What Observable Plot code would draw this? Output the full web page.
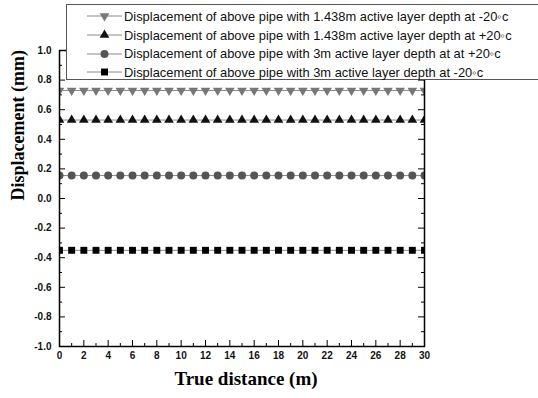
<!DOCTYPE html>
<html>
<head>
<meta charset="utf-8">
<script src="https://cdn.jsdelivr.net/npm/d3@7"></script>
<script src="https://cdn.jsdelivr.net/npm/@observablehq/plot@0.6"></script>
<style>
  html, body { margin: 0; padding: 0; background: #fff; }
  #wrap { position: relative; width: 538px; height: 398px; overflow: hidden; background: #fff; }
  #legend {
    position: absolute; left: 66px; top: 4px; width: 500px; height: 76px;
    border: 1px solid #555; background: #fff; box-sizing: border-box;
    padding-top: 2px; font-family: "Liberation Sans", Arial, sans-serif; font-size: 12.9px; color: #111;
  }
  .row { display: flex; align-items: center; height: 18.7px; white-space: nowrap; }
  .row svg { margin-left: 20px; margin-right: 2px; flex: none; }
</style>
</head>
<body>
<div id="wrap"><div id="legend"></div></div>
<script>
const distance = [0,1,2,3,4,5,6,7,8,9,10,11,12,13,14,15,16,17,18,19,20,21,22,23,24,25,26,27,28,29,30];
const depth1438Minus20 = [0.73,0.73,0.73,0.73,0.73,0.73,0.73,0.73,0.73,0.73,0.73,0.73,0.73,0.73,0.73,0.73,0.73,0.73,0.73,0.73,0.73,0.73,0.73,0.73,0.73,0.73,0.73,0.73,0.73,0.73,0.73];
const depth1438Plus20 = [0.53,0.53,0.53,0.53,0.53,0.53,0.53,0.53,0.53,0.53,0.53,0.53,0.53,0.53,0.53,0.53,0.53,0.53,0.53,0.53,0.53,0.53,0.53,0.53,0.53,0.53,0.53,0.53,0.53,0.53,0.53];
const depth3Plus20 = [0.155,0.155,0.155,0.155,0.155,0.155,0.155,0.155,0.155,0.155,0.155,0.155,0.155,0.155,0.155,0.155,0.155,0.155,0.155,0.155,0.155,0.155,0.155,0.155,0.155,0.155,0.155,0.155,0.155,0.155,0.155];
const depth3Minus20 = [-0.35,-0.35,-0.35,-0.35,-0.35,-0.35,-0.35,-0.35,-0.35,-0.35,-0.35,-0.35,-0.35,-0.35,-0.35,-0.35,-0.35,-0.35,-0.35,-0.35,-0.35,-0.35,-0.35,-0.35,-0.35,-0.35,-0.35,-0.35,-0.35,-0.35,-0.35];
const seriesNames = [
  "Displacement of above pipe with 1.438m active layer depth at -20◦c",
  "Displacement of above pipe with 1.438m active layer depth at +20◦c",
  "Displacement of above pipe with 3m active layer depth at at +20◦c",
  "Displacement of above pipe with 3m active layer depth at -20◦c"
];
const xMajorTicks = [0,2,4,6,8,10,12,14,16,18,20,22,24,26,28,30];
const xMinorTicks = [1,3,5,7,9,11,13,15,17,19,21,23,25,27,29];
const yMajorTicks = [-1.0,-0.8,-0.6,-0.4,-0.2,0.0,0.2,0.4,0.6,0.8,1.0];
const yMinorTicks = [-0.9,-0.7,-0.5,-0.3,-0.1,0.1,0.3,0.5,0.7,0.9];
const xTitle = "True distance (m)";
const yTitle = "Displacement (mm)";

const styles = [
  {symbol: "triangle", fill: "#777", r: 3.6, rotate: 180},
  {symbol: "triangle", fill: "#111", r: 3.6, rotate: 0},
  {symbol: "circle", fill: "#555", r: 4, rotate: 0},
  {symbol: "square", fill: "#000", r: 3.9, rotate: 0}
];
const valueSets = [depth1438Minus20, depth1438Plus20, depth3Plus20, depth3Minus20];
const table = [];
valueSets.forEach((vals, i) => vals.forEach((v, j) => table.push({series: seriesNames[i], distance: distance[j], value: v, k: i})));

const W = 538, H = 398, mL = 59, mR = 114, mT = 50, mB = 52;
const pw = W - mL - mR, ph = H - mT - mB;
const numFont = "Liberation Sans, Arial, sans-serif";
const serif = "Liberation Serif, Times New Roman, serif";

const marks = [
  Plot.line(table, {x: "distance", y: "value", z: "series", stroke: "#8a8a8a", strokeWidth: 1, clip: "frame"}),
  ...styles.map((s, i) => Plot.dot(table.filter(d => d.k === i), {
    x: "distance", y: "value", symbol: () => s.symbol, fill: s.fill, stroke: "none", r: s.r, rotate: s.rotate, clip: "frame"
  })),
  Plot.tickY(yMajorTicks, {y: d => d, insetRight: pw - 6, stroke: "#000", strokeWidth: 1}),
  Plot.tickY(yMinorTicks, {y: d => d, insetRight: pw - 3, stroke: "#000", strokeWidth: 1}),
  Plot.tickY(yMajorTicks, {y: d => d, insetLeft: pw - 6, stroke: "#000", strokeWidth: 1}),
  Plot.tickY(yMinorTicks, {y: d => d, insetLeft: pw - 3, stroke: "#000", strokeWidth: 1}),
  Plot.tickX(xMajorTicks, {x: d => d, insetTop: ph - 6, stroke: "#000", strokeWidth: 1}),
  Plot.tickX(xMinorTicks, {x: d => d, insetTop: ph - 3, stroke: "#000", strokeWidth: 1}),
  Plot.frame({stroke: "#000", strokeWidth: 1.5}),
  Plot.axisY({ticks: yMajorTicks, tickSize: 0, tickPadding: 8, tickFormat: d => d.toFixed(1), label: null,
    fontWeight: "bold", fontSize: 10, fontFamily: numFont, fill: "#111"}),
  Plot.axisX({ticks: xMajorTicks, tickSize: 0, tickPadding: 5, tickFormat: d => String(d), label: null,
    fontWeight: "bold", fontSize: 10, fontFamily: numFont, fill: "#111"}),
  Plot.text([xTitle], {text: d => d, frameAnchor: "bottom", dy: 38, dx: 4, fontFamily: serif, fontWeight: "bold", fontSize: 19, fill: "#000"}),
  Plot.text([yTitle], {text: d => d, frameAnchor: "left", dx: -41, dy: 2, rotate: -90, fontFamily: serif, fontWeight: "bold", fontSize: 18, fill: "#000"})
];

const chart = Plot.plot({
  width: W, height: H,
  marginLeft: mL, marginRight: mR, marginTop: mT, marginBottom: mB,
  x: {domain: [0, 30]},
  y: {domain: [-1, 1]},
  style: {background: "#fff", overflow: "visible"},
  marks
});
const wrap = document.getElementById("wrap");
wrap.insertBefore(chart, wrap.firstChild);

// legend
const legend = document.getElementById("legend");
const symMap = {triangle: d3.symbolTriangle, circle: d3.symbolCircle, square: d3.symbolSquare};
seriesNames.forEach((name, i) => {
  const s = styles[i];
  const row = document.createElement("div");
  row.className = "row";
  const path = d3.symbol(symMap[s.symbol], Math.PI * s.r * s.r)();
  row.innerHTML = `<svg width="35" height="14"><line x1="0" x2="35" y1="7" y2="7" stroke="#8a8a8a" stroke-width="1"/>` +
    `<path d="${path}" transform="translate(17.5,7) rotate(${s.rotate})" fill="${s.fill}"/></svg><span>${name}</span>`;
  legend.appendChild(row);
});
</script>
</body>
</html>
